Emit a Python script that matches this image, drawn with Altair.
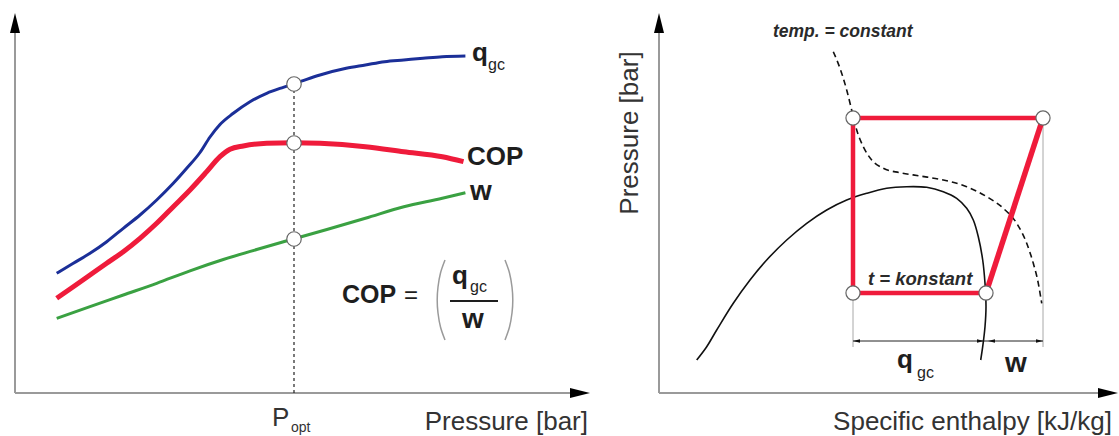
import altair as alt
import pandas as pd

FONT = "Liberation Sans"
W, H = 1119, 436

# ---------------- Left panel: q_gc, COP and w against pressure (figure units, y downwards)
qgc_x = [56.7, 73.3, 90.0, 106.7, 123.3, 140.0, 156.7, 173.3, 186.7, 200.0, 210.0, 220.0, 233.3,
         250.0, 266.7, 283.3, 293.3, 306.7, 320.0, 346.2, 365.4, 384.6, 403.8, 423.1, 442.3, 465.4]
qgc_y = [273.3, 263.3, 253.3, 241.7, 228.3, 215.0, 200.0, 183.3, 168.3, 152.5, 137.0, 124.5, 113.3,
         101.7, 93.3, 87.3, 84.0, 79.3, 75.0, 68.3, 65.0, 61.7, 60.0, 58.3, 56.7, 56.0]

cop_x = [56.7, 73.3, 90.0, 106.7, 123.3, 140.0, 156.7, 173.3, 190.0, 206.7, 220.0, 230.0, 243.3,
         266.7, 293.3, 320.0, 365.4, 403.8, 442.3, 463.5]
cop_y = [298.3, 286.7, 275.0, 263.3, 251.7, 238.3, 223.3, 206.7, 190.0, 171.7, 156.7, 149.3, 146.0,
         143.3, 142.7, 143.3, 146.7, 151.7, 156.7, 161.7]

w_x = [56.7, 90.0, 123.3, 156.7, 190.0, 223.3, 256.7, 293.3, 326.9, 365.4, 403.8, 442.3, 465.4]
w_y = [318.3, 306.7, 295.0, 283.3, 270.8, 259.5, 249.5, 239.0, 229.5, 218.3, 206.7, 198.3, 192.7]

popt_x = [294, 294, 294]
popt_y = [84, 143, 239]

# formula parentheses
lpar_x = [445, 440.5, 438, 437.2, 438, 440.5, 445]
lpar_y = [260, 273, 287, 300, 313, 327, 340]
rpar_x = [505, 509.5, 512, 512.8, 512, 509.5, 505]
rpar_y = [260, 273, 287, 300, 313, 327, 340]

# ---------------- Right panel: pressure-enthalpy diagram
sat_x = [696.7, 706.7, 716.7, 733.3, 750.0, 766.7, 786.7, 806.7, 826.7, 846.7, 866.7, 886.7, 906.7,
         926.7, 943.3, 956.7, 966.7, 973.3, 978.3, 982.7, 985.0, 986.0, 985.0, 982.7, 980.7]
sat_y = [360.0, 346.7, 330.0, 303.3, 280.0, 260.0, 240.0, 223.3, 210.0, 200.0, 193.3, 188.3, 186.7,
         187.3, 191.7, 198.3, 208.3, 220.0, 236.7, 260.0, 283.3, 306.7, 326.7, 346.7, 360.0]

iso_x = [833.3, 840.0, 846.7, 851.7, 856.7, 863.3, 871.7, 883.3, 900.0, 920.0, 943.3, 966.7, 986.7,
         1003.3, 1016.7, 1026.7, 1033.3, 1038.3, 1041.7]
iso_y = [51.7, 68.3, 90.0, 110.0, 130.0, 146.7, 160.0, 168.3, 172.7, 176.0, 180.0, 186.7, 196.7,
         208.3, 223.3, 243.3, 263.3, 283.3, 303.3]

cycle_x = [853, 1043, 986, 853]      # state points: gas-cooler in, compressor out, suction, throttle out
cycle_y = [118, 118, 293, 293]

COLORS = {"qgc": "#1b2f98", "cop": "#ef1b3b", "w": "#3aa142", "axis": "#9a9a9a",
          "text": "#1e1e1e", "title": "#333333"}

XS = alt.Scale(domain=[0, W], nice=False, zero=False)
YS = alt.Scale(domain=[0, H], nice=False, zero=False, reverse=True)
X = alt.X("x:Q", scale=XS, axis=None)
Y = alt.Y("y:Q", scale=YS, axis=None)


def line(xs, ys, **mk):
    df = pd.DataFrame({"x": xs, "y": ys, "i": list(range(len(xs)))})
    return alt.Chart(df).mark_line(**mk).encode(x=X, y=Y, order="i:Q")


def rules(rows, **mk):
    df = pd.DataFrame(rows, columns=["x", "y", "x2", "y2"])
    return alt.Chart(df).mark_rule(**mk).encode(x=X, y=Y, x2="x2:Q", y2="y2:Q")


def points(xs, ys, **mk):
    df = pd.DataFrame({"x": xs, "y": ys})
    return alt.Chart(df).mark_point(**mk).encode(x=X, y=Y)


def texts(rows, **mk):
    df = pd.DataFrame(rows, columns=["x", "y", "t"])
    mk.setdefault("baseline", "alphabetic")
    return alt.Chart(df).mark_text(font=FONT, **mk).encode(x=X, y=Y, text="t:N")


ARROW_UP = "M0,0L-0.5,2L0.5,2Z"
ARROW_RIGHT = "M0,0L-2,-0.5L-2,0.5Z"
ARROW_LEFT = "M0,0L2,-0.5L2,0.5Z"

layers = []

# axes
layers.append(rules([[15, 30, 15, 393], [15, 393, 575, 393],
                     [659, 30, 659, 393], [659, 393, 1100, 393]],
                    color=COLORS["axis"], strokeWidth=2))
layers.append(points([15, 659], [13, 13], shape=ARROW_UP, size=400, filled=True, color="black", opacity=1))
layers.append(points([590, 1118], [393, 393], shape=ARROW_RIGHT, size=400, filled=True, color="black", opacity=1))

# helper lines right panel
layers.append(rules([[853, 293, 853, 347], [1043, 118, 1043, 347]], color="#a8a8a8", strokeWidth=1))
layers.append(rules([[853, 341, 1043, 341]], color="#222222", strokeWidth=1))
layers.append(points([853, 988], [341, 341], shape=ARROW_LEFT, size=49, filled=True, color="#111", opacity=1))
layers.append(points([984, 1043], [341, 341], shape=ARROW_RIGHT, size=49, filled=True, color="#111", opacity=1))

# left curves
layers.append(rules([[294, 84, 294, 393]], color="#222222", strokeWidth=1.2, strokeDash=[3, 3]))
layers.append(line(w_x, w_y, color=COLORS["w"], strokeWidth=3, interpolate="monotone"))
layers.append(line(cop_x, cop_y, color=COLORS["cop"], strokeWidth=5, interpolate="monotone"))
layers.append(line(qgc_x, qgc_y, color=COLORS["qgc"], strokeWidth=3, interpolate="monotone"))
layers.append(points(popt_x, popt_y, shape="circle", size=210, filled=True, fill="white",
                     stroke="#666666", strokeWidth=1.2, opacity=1))

# formula parentheses and fraction bar
layers.append(line(lpar_x, lpar_y, color="#9a9a9a", strokeWidth=1.5, interpolate="cardinal"))
layers.append(line(rpar_x, rpar_y, color="#9a9a9a", strokeWidth=1.5, interpolate="cardinal"))
layers.append(rules([[450, 301, 498, 301]], color="#1e1e1e", strokeWidth=2))

# right diagram
layers.append(line(sat_x, sat_y, color="#111111", strokeWidth=1.6, interpolate="catmull-rom"))
layers.append(line(iso_x, iso_y, color="#111111", strokeWidth=1.6, strokeDash=[6, 4], interpolate="monotone"))
layers.append(rules([[cycle_x[0], cycle_y[0], cycle_x[1], cycle_y[1]],
                     [cycle_x[0], cycle_y[0], cycle_x[3], cycle_y[3]],
                     [cycle_x[3], cycle_y[3], cycle_x[2], cycle_y[2]]],
                    color=COLORS["cop"], strokeWidth=4.5))
layers.append(rules([[cycle_x[2], cycle_y[2], cycle_x[1], cycle_y[1]]],
                    color=COLORS["cop"], strokeWidth=5.5))
layers.append(points(cycle_x, cycle_y, shape="circle", size=200, filled=True, fill="white",
                     stroke="#666666", strokeWidth=1.2, opacity=1))

# texts
layers.append(texts([[588, 430, "Pressure [bar]"], [1112, 430, "Specific enthalpy [kJ/kg]"]],
                    fontSize=26, align="right", color=COLORS["title"]))
layers.append(texts([[272, 426, "P"]], fontSize=26, align="left", color=COLORS["title"]))
layers.append(texts([[291, 432, "opt"]], fontSize=14, align="left", color=COLORS["title"]))
layers.append(texts([[630, 133, "Pressure [bar]"]], fontSize=26, align="center", angle=270,
                    baseline="middle", color=COLORS["title"]))

bold = dict(fontWeight="bold", color=COLORS["text"], align="left")
layers.append(texts([[472, 61, "q"], [897, 368, "q"], [452, 284, "q"]], fontSize=26, **bold))
layers.append(texts([[488, 70, "gc"], [917, 378, "gc"], [470, 292, "gc"]], fontSize=16,
                    color=COLORS["text"], align="left"))
layers.append(texts([[467, 165, "COP"]], fontSize=26, **bold))
layers.append(texts([[342, 303, "COP"]], fontSize=25, **bold))
layers.append(texts([[470, 200, "w"], [1005, 372, "w"], [462, 328, "w"]], fontSize=28, **bold))
layers.append(texts([[404, 303, "="]], fontSize=24, color=COLORS["text"], align="left"))
layers.append(texts([[773, 37, "temp. = constant"]], fontSize=17.5,
                    fontWeight="bold", fontStyle="italic", color="#2a2a2a", align="left"))
layers.append(texts([[868, 285, "t = konstant"]], fontSize=18.5,
                    fontWeight="bold", fontStyle="italic", color="#2a2a2a", align="left"))

chart = alt.layer(*layers).properties(
    width=W, height=H, padding=0,
    autosize=alt.AutoSizeParams(type="none"),
    background="white",
).configure_view(stroke=None)

chart.save("out.html", embed_options={"renderer": "svg", "actions": False})
